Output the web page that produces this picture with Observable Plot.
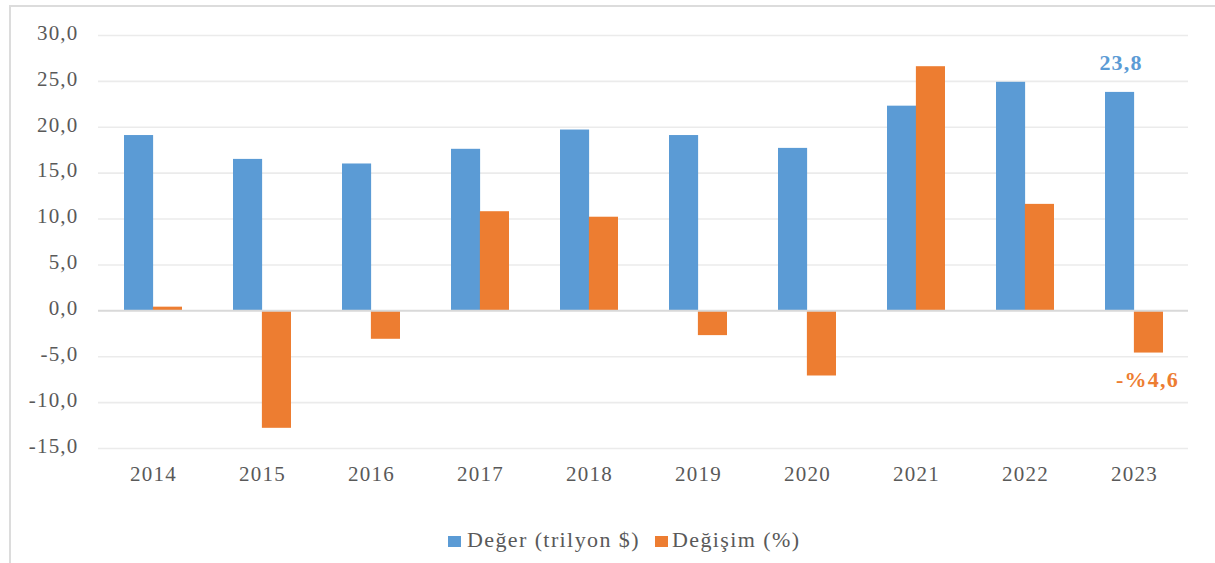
<!DOCTYPE html>
<html>
<head>
<meta charset="utf-8">
<script src="https://cdn.jsdelivr.net/npm/d3@7"></script>
<script src="https://cdn.jsdelivr.net/npm/@observablehq/plot@0.6"></script>
<style>
  html, body { margin: 0; padding: 0; background: #fff; width: 1215px; height: 563px; overflow: hidden; position: relative; font-family: "Liberation Serif", "Times New Roman", serif; }
  #frame { position: absolute; left: 9px; top: 5px; width: 1230px; height: 620px; border: 2px solid #dcdcdc; box-sizing: border-box; }
  #chart { position: absolute; left: 0; top: 0; }
  #chart svg text { letter-spacing: 1.2px; }
  .lg-sw { position: absolute; width: 13px; height: 11px; }
  .lg-tx { position: absolute; font-size: 22px; line-height: 22px; color: #595959; letter-spacing: 1.4px; white-space: nowrap; }
</style>
</head>
<body>
<div id="frame"></div>
<div id="chart"></div>
<div id="legend"></div>
<script>
// ---- data ----
const years = ["2014", "2015", "2016", "2017", "2018", "2019", "2020", "2021", "2022", "2023"];
const deger = [19.1, 16.5, 16.0, 17.6, 19.7, 19.1, 17.7, 22.3, 24.9, 23.8];
const degisim = [0.4, -12.8, -3.1, 10.8, 10.2, -2.7, -7.1, 26.6, 11.6, -4.6];
const yTicks = [-15, -10, -5, 0, 5, 10, 15, 20, 25, 30];
const seriesNames = ["Değer (trilyon $)", "Değişim (%)"];
const seriesColors = ["#5B9BD5", "#ED7D31"];
const labelDeger = [{year: "2023", value: 23.8, text: "23,8"}];
const labelDegisim = [{year: "2023", value: -4.6, text: "-%4,6"}];

// ---- layout ----
const W = 1215, H = 500;
const mL = 98, mR = 27, mT = 35, mB = 52;
const padInner = 0.47;
const step = (W - mL - mR) / years.length;
const half = step * (1 - padInner) / 2;

const rows = years.map((year, i) => ({year, deger: deger[i], degisim: degisim[i]}));
const fmt = d => d.toFixed(1).replace(".", ",");

const chart = Plot.plot({
  width: W,
  height: H,
  marginLeft: mL,
  marginRight: mR,
  marginTop: mT,
  marginBottom: mB,
  style: {fontFamily: "'Liberation Serif', 'Times New Roman', serif", fontSize: "21px", color: "#595959", background: "transparent"},
  x: {domain: years, type: "band", paddingInner: padInner, paddingOuter: padInner / 2, label: null},
  y: {domain: [-15, 30], label: null},
  marks: [
    Plot.ruleY(yTicks.filter(d => d !== 0), {stroke: "#ebebeb", strokeWidth: 1.6}),
    Plot.barY(rows, {x: "year", y: "deger", fill: seriesColors[0], insetRight: half}),
    Plot.barY(rows, {x: "year", y: "degisim", fill: seriesColors[1], insetLeft: half}),
    Plot.ruleY([0], {stroke: "#d9d9d9", strokeWidth: 2}),
    Plot.axisY({ticks: yTicks, tickFormat: fmt, tickSize: 0, tickPadding: 20, dy: -2.5, fill: "#595959", fontSize: 21, label: null}),
    Plot.axisX({tickSize: 0, tickPadding: 18, fill: "#595959", fontSize: 21, label: null}),
    Plot.text(labelDeger, {x: "year", y: "value", text: "text", dx: -half / 2 + 1, dy: -29.5, fill: seriesColors[0], fontWeight: "bold", fontSize: 22, lineAnchor: "middle"}),
    Plot.text(labelDegisim, {x: "year", y: "value", text: "text", dx: half / 2 - 1.5, dy: 26.5, fill: seriesColors[1], fontWeight: "bold", fontSize: 22, lineAnchor: "middle"})
  ]
});
document.getElementById("chart").appendChild(chart);

// ---- legend ----
const legend = document.getElementById("legend");
const legendPos = [{sw: 448, tx: 467}, {sw: 655, tx: 672}];
seriesNames.forEach((name, i) => {
  const sw = document.createElement("div");
  sw.className = "lg-sw";
  sw.style.left = legendPos[i].sw + "px";
  sw.style.top = "535.5px";
  sw.style.background = seriesColors[i];
  legend.appendChild(sw);
  const tx = document.createElement("div");
  tx.className = "lg-tx";
  tx.style.left = legendPos[i].tx + "px";
  tx.style.top = "528.5px";
  tx.textContent = name;
  legend.appendChild(tx);
});
</script>
</body>
</html>
